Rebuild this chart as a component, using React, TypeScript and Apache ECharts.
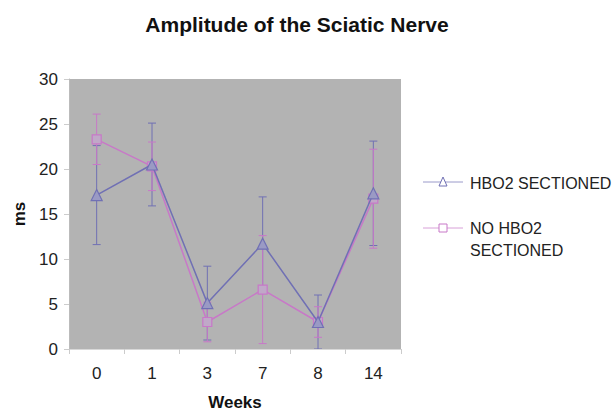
import React, { useEffect, useRef } from "react";
import * as echarts from "echarts";

const weeks = ["0", "1", "3", "7", "8", "14"];
const hboName = "HBO2 SECTIONED";
const noHboName = "NO HBO2\nSECTIONED";
const hboValues = [17.1, 20.5, 5.1, 11.7, 3.0, 17.3];
const hboErrors = [5.5, 4.6, 4.1, 5.2, 3.0, 5.8];
const noHboValues = [23.3, 20.3, 3.0, 6.6, 3.0, 16.7];
const noHboErrors = [2.8, 2.7, 2.2, 6.0, 1.7, 5.5];
const yTicks = { min: 0, max: 30, interval: 5 };

const HBO_COLOR = "#7070b4";
const NOHBO_COLOR = "#c878c8";
const FONT = "'Liberation Sans', Arial, sans-serif";
const TEXT = "#222222";

function errorSeries(values: number[], errs: number[], color: string) {
  return {
    type: "custom",
    silent: true,
    z: 1,
    clip: true,
    data: values.map((v, i) => [i, v - errs[i], v + errs[i]]),
    renderItem: (params: any, api: any) => {
      const x = api.value(0);
      const lo = api.coord([x, Math.max(0, api.value(1))]);
      const hi = api.coord([x, api.value(2)]);
      const lowCapped = api.value(1) >= 0;
      const w = 4;
      const children: any[] = [
        { type: "line", shape: { x1: hi[0], y1: hi[1], x2: lo[0], y2: lo[1] }, style: { stroke: color, lineWidth: 1 } },
        { type: "line", shape: { x1: hi[0] - w, y1: hi[1], x2: hi[0] + w, y2: hi[1] }, style: { stroke: color, lineWidth: 1 } },
      ];
      if (lowCapped) {
        children.push({ type: "line", shape: { x1: lo[0] - w, y1: lo[1], x2: lo[0] + w, y2: lo[1] }, style: { stroke: color, lineWidth: 1 } });
      }
      return { type: "group", children };
    },
  };
}

export default function App() {
  const ref = useRef<HTMLDivElement>(null);
  useEffect(() => {
    if (!ref.current) return;
    const chart = echarts.init(ref.current, undefined, { renderer: "svg" });
    const option: any = {
      animation: false,
      backgroundColor: "#ffffff",
      title: {
        text: "Amplitude of the Sciatic Nerve",
        left: 292,
        textAlign: "center",
        top: 9,
        textStyle: { fontFamily: FONT, fontSize: 21, fontWeight: "bold", color: "#111" },
      },
      grid: {
        left: 69,
        right: 211,
        top: 79,
        bottom: 66,
        show: true,
        backgroundColor: "#b3b3b3",
        borderWidth: 0,
      },
      xAxis: {
        type: "category",
        data: weeks,
        boundaryGap: true,
        name: "Weeks",
        nameLocation: "middle",
        nameGap: 45,
        nameTextStyle: { fontFamily: FONT, fontSize: 17, fontWeight: "bold", color: "#111" },
        axisLine: { lineStyle: { color: "#d8d8d8", width: 1 } },
        axisTick: { show: true, length: 5, lineStyle: { color: "#cccccc" } },
        axisLabel: { fontFamily: FONT, fontSize: 17, color: TEXT, margin: 16 },
        splitLine: { show: false },
      },
      yAxis: {
        type: "value",
        min: yTicks.min,
        max: yTicks.max,
        interval: yTicks.interval,
        name: "ms",
        nameLocation: "middle",
        nameGap: 40,
        nameRotate: 90,
        nameTextStyle: { fontFamily: FONT, fontSize: 17, fontWeight: "bold", color: "#111" },
        axisLine: { show: true, lineStyle: { color: "#bbbbbb", width: 1 } },
        axisTick: { show: true, length: 5, lineStyle: { color: "#cccccc" } },
        axisLabel: { fontFamily: FONT, fontSize: 17, color: TEXT, margin: 11 },
        splitLine: { show: false },
      },
      graphic: [
        { type: "line", shape: { x1: 423, y1: 182, x2: 463, y2: 182 }, style: { stroke: HBO_COLOR, lineWidth: 1, opacity: 0.7 } },
        { type: "polygon", shape: { points: [[443, 177], [439, 186], [447, 186]] }, style: { stroke: HBO_COLOR, fill: "#ffffff", lineWidth: 1 } },
        { type: "text", x: 470, y: 183, style: { text: hboName, font: `16px ${FONT}`, fill: TEXT, verticalAlign: "middle" } },
        { type: "line", shape: { x1: 423, y1: 228, x2: 463, y2: 228 }, style: { stroke: NOHBO_COLOR, lineWidth: 1, opacity: 0.7 } },
        { type: "rect", shape: { x: 439, y: 224, width: 8, height: 8 }, style: { stroke: NOHBO_COLOR, fill: "#ffffff", lineWidth: 1 } },
        { type: "text", x: 470, y: 217, style: { text: noHboName, font: `16px ${FONT}`, fill: TEXT, lineHeight: 22, verticalAlign: "top" } },
      ],
      series: [
        errorSeries(hboValues, hboErrors, HBO_COLOR),
        errorSeries(noHboValues, noHboErrors, NOHBO_COLOR),
        {
          name: noHboName,
          type: "line",
          data: noHboValues,
          z: 2,
          symbol: "rect",
          symbolSize: 9,
          itemStyle: { color: "#c0a8c8", borderColor: NOHBO_COLOR, borderWidth: 1.2 },
          lineStyle: { color: NOHBO_COLOR, width: 1.5 },
        },
        {
          name: hboName,
          type: "line",
          data: hboValues,
          z: 3,
          symbol: "triangle",
          symbolSize: 11,
          itemStyle: { color: "#9a9ac4", borderColor: HBO_COLOR, borderWidth: 1.2 },
          lineStyle: { color: HBO_COLOR, width: 1.5 },
        },
      ],
    };
    chart.setOption(option);
    return () => chart.dispose();
  }, []);
  return (
    <div
      ref={ref}
      style={{ position: "fixed", left: 0, top: 0, width: 612, height: 416, background: "#fff" }}
    />
  );
}
